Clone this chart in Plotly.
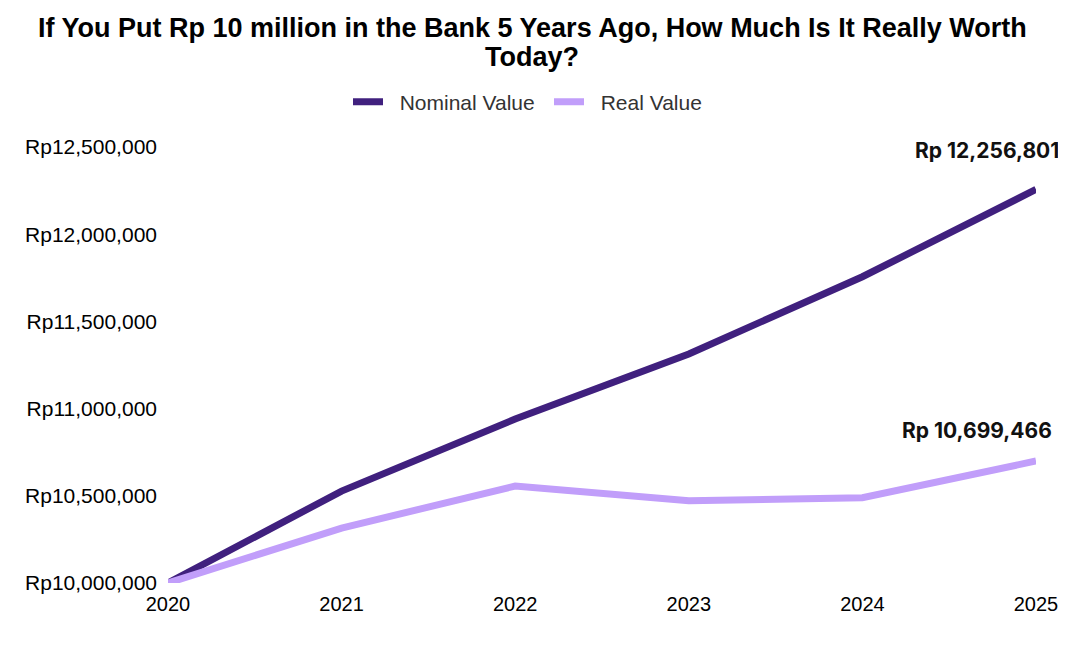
import plotly.graph_objects as go

years = [2020, 2021, 2022, 2023, 2024, 2025]
nominal = [10000000, 10527000, 10940000, 11313000, 11756000, 12256801]
real = [10000000, 10315000, 10556000, 10472000, 10489000, 10699466]
y_ticks = [10000000, 10500000, 11000000, 11500000, 12000000, 12500000]
y_tick_labels = ["Rp{:,}".format(v) for v in y_ticks]
series_names = ["Nominal Value", "Real Value"]
title_lines = ["If You Put Rp 10 million in the Bank 5 Years Ago, How Much Is It Really Worth",
               "Today?"]

c_nom = "#40207E"
c_real = "#C19EFA"

W, H = 1058, 638
L, R, T, B = 160, 30, 139, 63
ph = H - T - B
pw = W - L - R

fig = go.Figure()
fig.add_trace(go.Scatter(x=years, y=nominal, mode="lines", name="\u00a0\u00a0" + series_names[0],
                         line=dict(color=c_nom, width=7), cliponaxis=False))
fig.add_trace(go.Scatter(x=years, y=real, mode="lines", name="\u00a0\u00a0" + series_names[1],
                         line=dict(color=c_real, width=7), cliponaxis=False))

fig.add_annotation(x=years[-1], y=nominal[-1], text="<b>Rp {:,}</b>".format(nominal[-1]), showarrow=False,
                   xanchor="right", yanchor="middle", xshift=25, yshift=39,
                   font=dict(family="Inter", size=21, color="#111"))
fig.add_annotation(x=years[-1], y=real[-1], text="<b>Rp {:,}</b>".format(real[-1]), showarrow=False,
                   xanchor="right", yanchor="middle", xshift=18, yshift=31,
                   font=dict(family="Inter", size=21, color="#111"))

# Title (two lines, tight spacing)
for line, yc in zip(title_lines, [20, 49]):
    fig.add_annotation(xref="paper", yref="paper", x=(524 - L) / pw, y=(H - B - yc) / ph,
                       text="<b>" + line + "</b>", showarrow=False,
                       xanchor="center", yanchor="middle",
                       font=dict(family="Liberation Sans", size=27, color="#000"))

fig.update_layout(
    width=W, height=H,
    paper_bgcolor="white", plot_bgcolor="white",
    margin=dict(l=L, r=R, t=T, b=B, autoexpand=False),
    legend=dict(orientation="h", xref="container", yref="container", x=340 / W, xanchor="left",
                y=1 - 94 / H, yanchor="middle",
                font=dict(family="Liberation Sans", size=21, color="#333"),
                itemwidth=30, entrywidth=156, entrywidthmode="pixels"),
    showlegend=True,
    xaxis=dict(range=[2020, 2025], tickvals=years, ticktext=[str(y) for y in years],
               showgrid=False, zeroline=False, showline=False, ticklabelstandoff=7,
               tickfont=dict(family="Liberation Sans", size=20, color="#000")),
    yaxis=dict(range=[10000000, 12500000], tickvals=y_ticks, ticktext=y_tick_labels,
               showgrid=False, zeroline=False, showline=False, ticklabelstandoff=10,
               tickfont=dict(family="Liberation Sans", size=21, color="#000")),
)

fig.write_html("out.html")
